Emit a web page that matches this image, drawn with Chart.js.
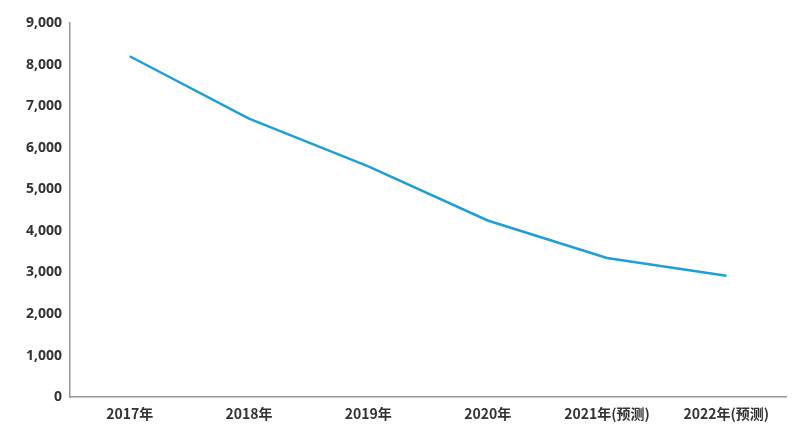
<!DOCTYPE html>
<html><head><meta charset="utf-8">
<script src="https://cdn.jsdelivr.net/npm/chart.js@4"></script>
<style>html,body{margin:0;background:#fff}#w{width:800px;height:434px}</style>
</head><body><div id="w"><canvas id="c"></canvas></div>
<script>
const categories=["2017年","2018年","2019年","2020年","2021年(预测)","2022年(预测)"];
const values=[8200,6700,5550,4250,3350,2920];
new Chart(document.getElementById('c'),{
 type:'line',
 data:{labels:categories,datasets:[{data:values,borderColor:'#1f9fd5',borderWidth:2.5,pointRadius:0,tension:0}]},
 options:{responsive:true,maintainAspectRatio:false,animation:false,
  layout:{padding:{top:23,right:14,bottom:4,left:18}},
  plugins:{legend:{display:false},tooltip:{enabled:false}},
  scales:{
   x:{offset:true,grid:{display:false,drawTicks:false},border:{color:'#999',width:1.5},
      ticks:{color:'#333',padding:8,maxRotation:0,font:{family:'"Noto Sans CJK SC","Open Sans"',size:14,weight:'bold'}}},
   y:{min:0,max:9000,grid:{display:false,drawTicks:false},border:{color:'#999',width:1.5},
      ticks:{stepSize:1000,color:'#333',padding:8,font:{family:'"Open Sans"',size:14,weight:'bold'},
       callback:v=>v.toLocaleString('en-US')}}
  }}
});
</script></body></html>
